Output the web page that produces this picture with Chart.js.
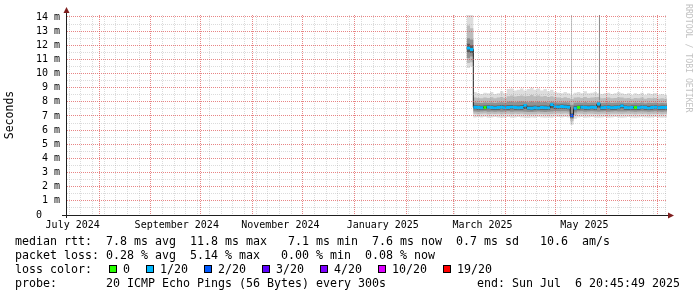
<!DOCTYPE html>
<html><head><meta charset="utf-8">
<script src="https://cdn.jsdelivr.net/npm/chart.js@4.4.1/dist/chart.umd.min.js"></script>
<style>
html,body{margin:0;padding:0;background:#fff;}
#wrap{position:relative;width:697px;height:297px;overflow:hidden;background:#fff;}
#c{position:absolute;left:0;top:0;}
.t{position:absolute;font-family:'DejaVu Sans Mono',monospace;font-size:11.63px;line-height:14px;white-space:pre;color:#000;}
.sq{position:absolute;width:8px;height:8px;box-sizing:border-box;border:1px solid #000;}
#wm{position:absolute;left:684px;top:4px;font-family:'DejaVu Sans Mono',monospace;font-size:8.2px;color:#c2c2c2;writing-mode:vertical-rl;white-space:pre;line-height:9px;}
</style></head><body>
<div id="wrap">
<canvas id="c" width="697" height="297"></canvas>
<div id="wm">RRDTOOL / TOBI OETIKER</div>
<div class="t" style="left:15px;top:234px">median rtt:  7.8 ms avg  11.8 ms max   7.1 ms min  7.6 ms now  0.7 ms sd   10.6  am/s</div>
<div class="t" style="left:15px;top:247.9px">packet loss: 0.28 % avg  5.14 % max   0.00 % min  0.08 % now</div>
<div class="t" style="left:15px;top:261.8px">loss color:</div>
<div class="t" style="left:15px;top:275.7px">probe:       20 ICMP Echo Pings (56 Bytes) every 300s             end: Sun Jul  6 20:45:49 2025</div>
<div id="lossLegend"></div>
</div>
<script>
// ---------- data (days since 2024-07-01 00:00) ----------
const days = [251,253,255,257,259,261,263,265,267,269,271,273,275,277,279,281,283,285,287,289,
              291,293,295,297,299,301,303,305,307,309,311,313,315,317,319,321,323,325,327,329,
              331,333,335,337,339,341,343,345,347,349,351,353,355,357,359,361,363,365,367,369];
const END_DAY = 370.93;

const median = [11.8,11.7,7.62,7.6,7.58,7.6,7.62,7.6,7.57,7.6,
                7.62,7.58,7.6,7.63,7.6,7.58,7.6,7.75,7.56,7.55,
                7.58,7.56,7.6,7.58,7.57,7.8,7.66,7.65,7.67,7.64,
                7.62,7.02,7.55,7.6,7.62,7.6,7.58,7.62,7.6,7.85,
                7.58,7.6,7.62,7.58,7.6,7.62,7.72,7.6,7.58,7.6,
                7.6,7.58,7.62,7.6,7.56,7.6,7.62,7.58,7.6,7.6];

const loss = [0.4,0.3,0.2,0.1,0.1,0,0.1,0.1,0.1,0.1,
              0.1,0.1,0.1,0.1,0.1,0.1,0.1,0.2,0.1,0.1,
              0.1,0.1,0.1,0.1,0.1,0.2,0.1,0.1,0.1,0.1,
              0.1,1.5,0.1,0,0.1,0.1,0.1,0.1,0.1,0.3,
              0.1,0.1,0.1,0.1,0.1,0.1,0.1,0.1,0.1,0.1,
              0,0.1,0.1,0.1,0.1,0.1,0.1,0.1,0.1,0.1];

const rttMax = [14.5,14.5,8.7,8.6,8.55,8.65,8.6,8.7,8.55,8.6,
                8.75,8.6,8.9,8.95,8.8,8.85,8.95,8.8,8.9,9.0,
                8.85,8.95,8.8,8.9,8.75,8.85,8.7,8.65,8.6,8.7,
                8.6,8.5,8.65,8.7,8.6,8.75,8.6,8.65,8.7,8.6,
                8.55,8.6,8.65,8.55,8.6,8.7,8.6,8.55,8.6,8.5,
                8.6,8.55,8.65,8.5,8.6,8.55,8.6,8.5,8.55,8.5];
const rttMin = [10.4,10.5,6.9,6.92,6.9,6.95,6.88,6.9,6.93,6.9,
                6.87,6.9,6.92,6.88,6.9,6.93,6.9,6.88,6.85,6.9,
                6.88,6.92,6.9,6.87,6.9,6.88,6.95,6.92,6.9,6.93,
                6.9,6.38,6.8,6.9,6.92,6.88,6.9,6.93,6.9,6.88,
                6.9,6.92,6.88,6.9,6.93,6.9,6.88,6.9,6.92,6.9,
                6.88,6.9,6.93,6.9,6.88,6.9,6.92,6.9,6.88,6.9];
const rttP90 = [13.4,13.2,8.3,8.28,8.25,8.3,8.27,8.32,8.25,8.3,
                8.35,8.28,8.4,8.45,8.38,8.42,8.45,8.4,8.42,8.48,
                8.4,8.45,8.38,8.42,8.35,8.4,8.32,8.3,8.28,8.32,
                8.28,8.2,8.3,8.32,8.28,8.35,8.28,8.3,8.32,8.35,
                8.25,8.28,8.3,8.25,8.28,8.32,8.3,8.25,8.28,8.22,
                8.28,8.25,8.3,8.22,8.28,8.25,8.28,8.22,8.25,8.22];
const rttP10 = [10.75,10.8,7.15,7.13,7.15,7.17,7.12,7.15,7.14,7.15,
                7.12,7.15,7.16,7.13,7.15,7.14,7.15,7.13,7.1,7.12,
                7.13,7.15,7.14,7.12,7.13,7.14,7.18,7.17,7.15,7.17,
                7.15,6.62,7.05,7.15,7.16,7.13,7.15,7.16,7.14,7.13,
                7.15,7.16,7.13,7.15,7.16,7.15,7.14,7.15,7.16,7.15,
                7.13,7.15,7.16,7.15,7.13,7.15,7.16,7.15,7.13,7.15];
const rttP75 = [12.5,12.4,7.95,7.93,7.92,7.95,7.94,7.96,7.92,7.95,
                7.97,7.93,8.0,8.02,7.98,8.0,8.02,8.0,7.98,8.02,
                7.98,8.0,7.97,7.99,7.95,8.0,7.97,7.96,7.95,7.97,
                7.95,7.8,7.93,7.95,7.94,7.97,7.93,7.95,7.96,8.0,
                7.92,7.94,7.95,7.92,7.94,7.96,7.95,7.92,7.93,7.9,
                7.93,7.92,7.95,7.9,7.93,7.92,7.94,7.9,7.92,7.9];
const rttP25 = [11.1,11.2,7.32,7.3,7.31,7.33,7.3,7.32,7.3,7.32,
                7.3,7.31,7.33,7.3,7.32,7.31,7.32,7.3,7.28,7.29,
                7.3,7.31,7.3,7.29,7.3,7.31,7.35,7.34,7.33,7.34,
                7.32,6.8,7.25,7.32,7.33,7.3,7.32,7.33,7.31,7.3,
                7.32,7.33,7.3,7.32,7.33,7.32,7.31,7.32,7.33,7.32,
                7.3,7.32,7.33,7.32,7.3,7.32,7.33,7.32,7.3,7.32];
const rttP60 = [12.1,12.0,7.76,7.74,7.73,7.75,7.76,7.75,7.73,7.75,
                7.77,7.74,7.76,7.78,7.75,7.74,7.76,7.82,7.72,7.72,
                7.74,7.72,7.75,7.74,7.73,7.86,7.8,7.79,7.81,7.79,
                7.77,7.2,7.72,7.75,7.76,7.75,7.74,7.76,7.75,7.9,
                7.73,7.75,7.76,7.73,7.75,7.76,7.82,7.75,7.73,7.74,
                7.74,7.73,7.76,7.75,7.72,7.75,7.76,7.73,7.75,7.74];
const rttP40 = [11.5,11.45,7.47,7.45,7.44,7.46,7.47,7.45,7.43,7.45,
                7.47,7.44,7.45,7.47,7.45,7.44,7.45,7.5,7.42,7.41,
                7.43,7.42,7.45,7.43,7.42,7.55,7.5,7.49,7.51,7.49,
                7.47,6.88,7.4,7.45,7.47,7.45,7.44,7.47,7.45,7.6,
                7.43,7.45,7.47,7.43,7.45,7.47,7.55,7.45,7.43,7.45,
                7.45,7.43,7.47,7.45,7.42,7.45,7.47,7.43,7.45,7.45];

// single-sample outliers (vertical smoke spikes)
const spikeDays = [313.8, 330.5];
const spikeLow  = [6.4, 8.1];
const spikeHigh = [14.5, 14.5];

// ---------- axes / legend text ----------
const xMonthStarts = [31,62,92,123,153,184,215,243,274,304,335,365];
const xSundays = [13,20,27,34,41,48,55,69,76,83,90,97,104,111,118,125,132,139,146,160,167,174,181,188,
                  195,202,209,216,223,230,237,244,251,258,265,272,279,286,293,300,307,314,321,328,342,349,356,363,370];
const xLabelDays = [15.2, 77.5, 139.5, 200.8, 260.5, 321.5];
const xLabels = ['July 2024','September 2024','November 2024','January 2025','March 2025','May 2025'];
const yMajor = [0,1,2,3,4,5,6,7,8,9,10,11,12,13,14];
const yMinor = [0.5,1.5,2.5,3.5,4.5,5.5,6.5,7.5,8.5,9.5,10.5,11.5,12.5,13.5];
const lossLabels = ['0','1/20','2/20','3/20','4/20','10/20','19/20'];
const lossLimits = [0,1,2,3,4,10,20];
const lossColors = ['#26ff00','#00b8ff','#0059ff','#5e00ff','#7e00ff','#dd00ff','#ff0000'];

// ---------- layout ----------
const sqLeft = [109,146,204,262,320,378,443];
const lblLeft = [123,160,218,276,334,392,457];
const lg = document.getElementById('lossLegend');
lossLabels.forEach((l,i)=>{
  const s = document.createElement('div'); s.className='sq';
  s.style.left = sqLeft[i]+'px'; s.style.top='265px'; s.style.background = lossColors[i];
  lg.appendChild(s);
  const t = document.createElement('div'); t.className='t';
  t.style.left = lblLeft[i]+'px'; t.style.top='261.8px'; t.textContent = l;
  lg.appendChild(t);
});

const GRID = 'rgba(150,150,150,0.34)';
const MGRID = 'rgba(220,70,70,0.66)';
const NONE = 'rgba(0,0,0,0)';
const FONT = "'DejaVu Sans Mono', monospace";

function lossColor(l){ for (let k=0;k<lossLimits.length;k++){ if (l <= lossLimits[k]) return lossColors[k]; } return lossColors[lossColors.length-1]; }
const pts = arr => days.map((d,i)=>({x:d, y:arr[i]})).concat([{x:END_DAY, y:arr[arr.length-1]}]);
const medLo = median.map(v=>v-0.1), medHi = median.map(v=>v+0.1);

const xTicks = Array.from(new Set(xMonthStarts.concat(xSundays, xLabelDays))).sort((a,b)=>a-b);
const yTicks = yMajor.concat(yMinor).sort((a,b)=>a-b);

const base = {pointRadius:0, pointHitRadius:0, borderWidth:0, borderColor:NONE, stepped:true, fill:false};
const band = (lo, hi, loIdx, color, order) => [
  Object.assign({}, base, {data:pts(lo), order:order+1}),
  Object.assign({}, base, {data:pts(hi), order:order, fill:{target:loIdx}, backgroundColor:color})
];
const spike = (i, color, order) => Object.assign({}, base, {stepped:false, borderWidth:1, borderColor:color, order:order,
  data:[{x:spikeDays[i], y:spikeLow[i]},{x:spikeDays[i], y:spikeHigh[i]}]});

const datasets = [].concat(
  band(rttMin, rttMax, 0, '#dddddd', 99),        // 0,1
  [spike(0, '#c6c6c6', 95)],                      // 2
  band(rttP10, rttP90, 3, '#bcbcbc', 89),        // 3,4
  band(rttP25, rttP75, 5, '#919191', 79),        // 5,6
  band(rttP40, rttP60, 7, '#5a5a5a', 69),        // 7,8
  [spike(1, '#8a8a8a', 65)],                      // 9
  [Object.assign({}, base, {data:pts(median), borderWidth:1, borderColor:'#202020', order:20})], // 10
  [Object.assign({}, base, {data:pts(medLo), order:11})],  // 11
  [Object.assign({}, base, {data:pts(medHi), order:10, fill:{target:11}, backgroundColor:lossColors[1],
     segment:{backgroundColor: c => lossColor(loss[c.p0DataIndex])}})] // 12
);

const axisDeco = {
  id:'axisDeco',
  afterDraw(chart){
    const {ctx, chartArea:a} = chart;
    ctx.save();
    ctx.setLineDash([]);
    ctx.strokeStyle = '#1f1f1f'; ctx.lineWidth = 1;
    ctx.beginPath();
    ctx.moveTo(a.left-4, a.bottom+0.5); ctx.lineTo(a.right+1, a.bottom+0.5);
    ctx.moveTo(a.left+0.5, a.bottom+3); ctx.lineTo(a.left+0.5, a.top-2);
    ctx.stroke();
    ctx.fillStyle = '#7f1f1f';
    ctx.beginPath(); ctx.moveTo(a.right+1, a.bottom-2.5); ctx.lineTo(a.right+7, a.bottom+0.5); ctx.lineTo(a.right+1, a.bottom+3.5); ctx.closePath(); ctx.fill();
    ctx.beginPath(); ctx.moveTo(a.left-2.5, a.top-2); ctx.lineTo(a.left+0.5, a.top-8); ctx.lineTo(a.left+3.5, a.top-2); ctx.closePath(); ctx.fill();
    ctx.restore();
  }
};

new Chart(document.getElementById('c'), {
  type:'line',
  data:{datasets},
  plugins:[axisDeco],
  options:{
    responsive:false, animation:false, devicePixelRatio:1, events:[],
    layout:{padding:{left:0, top:15, right:30, bottom:0}},
    plugins:{legend:{display:false}, tooltip:{enabled:false}},
    scales:{
      x:{type:'linear', position:'bottom', min:11.2, max:370.93,
        afterBuildTicks: s => { s.ticks = xTicks.map(v=>({value:v})); },
        afterFit: s => { s.height = 82; },
        grid:{z:1, drawTicks:false, lineWidth:1,
          color: c => { const v = c.tick ? c.tick.value : null; return xMonthStarts.includes(v) ? MGRID : (xSundays.includes(v) ? GRID : NONE); }},
        border:{display:true, z:2, color:'#1f1f1f', width:1, dash:[1,1]},
        ticks:{autoSkip:false, maxRotation:0, minRotation:0, padding:4, color:'#000', font:{family:FONT, size:10},
          callback: v => { const k = xLabelDays.indexOf(v); return k >= 0 ? xLabels[k] : ''; }}
      },
      y:{type:'linear', min:0, max:14.14,
        afterBuildTicks: s => { s.ticks = yTicks.map(v=>({value:v})); },
        afterFit: s => { s.width = 66; },
        grid:{z:1, drawTicks:false, lineWidth:1,
          color: c => { const v = c.tick ? c.tick.value : null; if (v === 0) return NONE; return yMajor.includes(v) ? MGRID : GRID; }},
        border:{display:true, z:2, color:'#1f1f1f', width:1, dash:[1,1]},
        ticks:{autoSkip:false, padding:6, color:'#000', font:{family:FONT, size:10},
          callback: v => v === 0 ? '0   ' : (yMajor.includes(v) ? v + ' m' : '')},
        title:{display:true, text:'Seconds', color:'#000', font:{family:FONT, size:11.5}, padding:{top:3, bottom:0}}
      }
    }
  }
});
</script>
</body></html>
